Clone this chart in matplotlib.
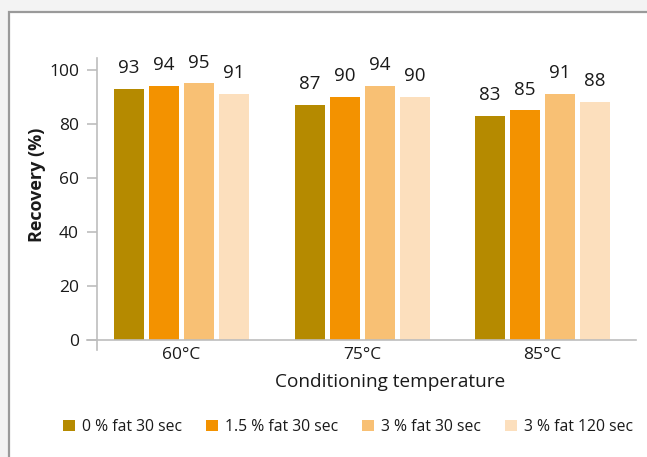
import numpy as np
import matplotlib.pyplot as plt
from matplotlib.patches import Rectangle

plt.rcParams['font.family'] = ['Open Sans', 'DejaVu Sans']

# Recovery (%) per conditioning temperature and sample type
temperatures = ['60°C', '75°C', '85°C']
series = ['0 % fat 30 sec', '1.5 % fat 30 sec', '3 % fat 30 sec', '3 % fat 120 sec']
fat0_30 = [93, 87, 83]
fat15_30 = [94, 90, 85]
fat3_30 = [95, 94, 91]
fat3_120 = [91, 90, 88]
values = [fat0_30, fat15_30, fat3_30, fat3_120]
colors = ['#b58a00', '#f39200', '#f8c074', '#fcdfbd']

text_col = '#1a1a1a'
axis_col = '#bdbdbd'

fig = plt.figure(figsize=(6.47, 4.57), dpi=100)
fig.patch.set_facecolor('#f3f3f3')
# white panel with grey border
fig.patches.append(Rectangle((9 / 647, -0.05), 1.1, 1 - 12 / 457 + 0.05,
                             transform=fig.transFigure, facecolor='white',
                             edgecolor='#9a9a9a', linewidth=1.6, zorder=-1))

ax = fig.add_axes([0.1345, 0.2342, 0.8485, 0.6389])
ax.set_facecolor('none')
ax.set_zorder(1)

x = np.arange(len(temperatures))
width = 0.166
step = 0.194
for i, (vals, col, name) in enumerate(zip(values, colors, series)):
    pos = x + (i - 1.5) * step
    bars = ax.bar(pos, vals, width=width, color=col, label=name, zorder=2)
    for b, v in zip(bars, vals):
        ax.annotate(str(v), (b.get_x() + b.get_width() / 2, v),
                    xytext=(0, 8.5), textcoords='offset points',
                    ha='center', va='bottom', fontsize=13.5, color=text_col)

ax.set_xlim(-0.524, 2.518)
ax.set_ylim(-3.7, 104.4)

ax.spines['top'].set_visible(False)
ax.spines['right'].set_visible(False)
ax.spines['bottom'].set_position(('data', 0))
ax.spines['left'].set_position(('data', -0.468))
for s in ('bottom', 'left'):
    ax.spines[s].set_color(axis_col)
    ax.spines[s].set_linewidth(1.2)

ax.set_yticks(np.arange(0, 101, 20))
ax.tick_params(axis='y', length=7, width=1.2, color=axis_col,
               labelsize=12.5, labelcolor=text_col, pad=6)
ax.set_xticks(x)
ax.set_xticklabels(temperatures)
ax.tick_params(axis='x', length=0, labelsize=12.5, labelcolor=text_col, pad=5)

ax.set_xlabel('Conditioning temperature', fontsize=13.7, color=text_col)
ax.set_ylabel('Recovery (%)', fontsize=13, fontweight='bold', color=text_col)
ax.xaxis.set_label_coords(0.552, -0.11)
ax.yaxis.set_label_coords(-0.092, 0.565)
ax.yaxis.label.set_va('center')
ax.xaxis.label.set_va('center')

fig.legend(loc='center', bbox_to_anchor=(0.538, 1 - 427 / 457), ncol=4,
           frameon=False, fontsize=11.3, handlelength=0.75, handleheight=0.75,
           handletextpad=0.45, columnspacing=1.55, labelcolor=text_col)

fig.savefig('out.png', dpi=100, facecolor=fig.get_facecolor())
